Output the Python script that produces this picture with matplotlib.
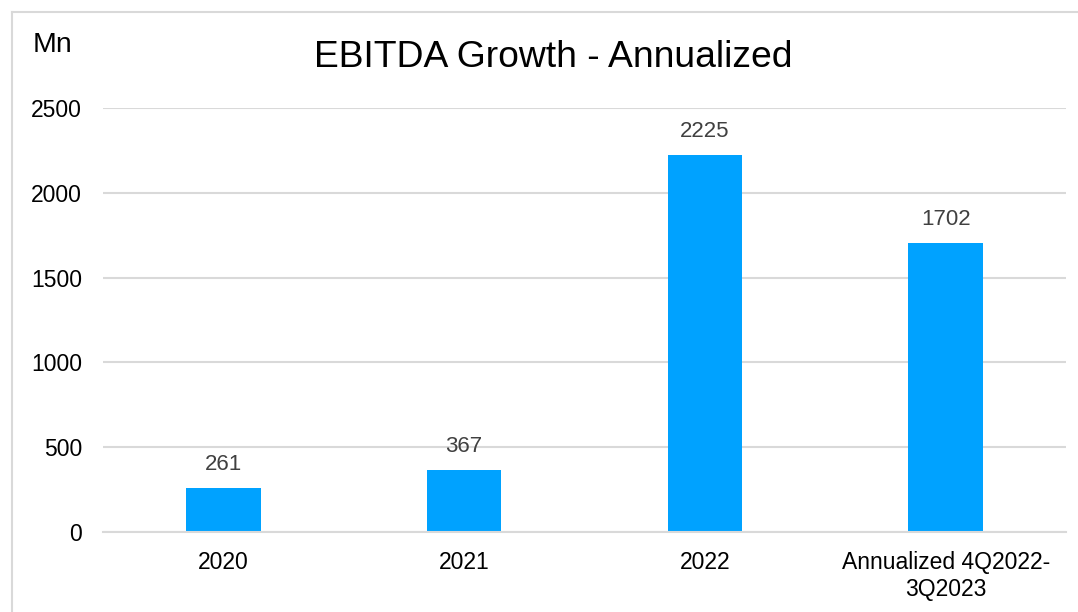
import matplotlib.pyplot as plt
from matplotlib.lines import Line2D

categories = ['2020', '2021', '2022', 'Annualized 4Q2022-\n3Q2023']
ebitda = [261, 367, 2225, 1702]
y_ticks = [0, 500, 1000, 1500, 2000, 2500]

plt.rcParams['font.family'] = ['Liberation Sans', 'DejaVu Sans']

fig = plt.figure(figsize=(10.78, 6.12), dpi=100)
ax = fig.add_axes([0.0955, 0.1307, 0.8934, 0.6928])

x = range(len(categories))
bars = ax.bar(x, ebitda, width=0.31, color='#00A2FF', zorder=2)
for xi, v in zip(x, ebitda):
    ax.annotate(str(v), (xi, v), xytext=(0, 17), textcoords='offset points',
                ha='center', va='center', fontsize=16, color='#404040', zorder=3)

ax.set_xlim(-0.5, len(categories) - 0.5)
ax.set_ylim(0, 2500)
ax.set_yticks(y_ticks)
ax.set_xticks(list(x))
ax.set_xticklabels(categories)
ax.grid(axis='y', color='#D9D9D9', linewidth=1.5, zorder=0)
ax.set_axisbelow(True)
for s in ['top', 'right', 'left']:
    ax.spines[s].set_visible(False)
ax.spines['bottom'].set_color('#D9D9D9')
ax.spines['bottom'].set_linewidth(1.5)
ax.tick_params(axis='both', length=0, labelsize=16.5, colors='black')
ax.tick_params(axis='y', pad=15)
ax.tick_params(axis='x', pad=14)

fig.text(0.513, 0.906, 'EBITDA Growth - Annualized', ha='center', va='center', fontsize=26.8)
fig.text(0.030, 0.926, 'Mn', ha='left', va='center', fontsize=20.5)

# chart border (left and top edges visible)
bx = 12 / 1078
by = 1 - 12 / 612
fig.add_artist(Line2D([bx, bx], [0, by], color='#D9D9D9', linewidth=1.5, transform=fig.transFigure))
fig.add_artist(Line2D([bx, 1], [by, by], color='#D9D9D9', linewidth=1.5, transform=fig.transFigure))

fig.savefig('out.png', dpi=100, facecolor='white')
